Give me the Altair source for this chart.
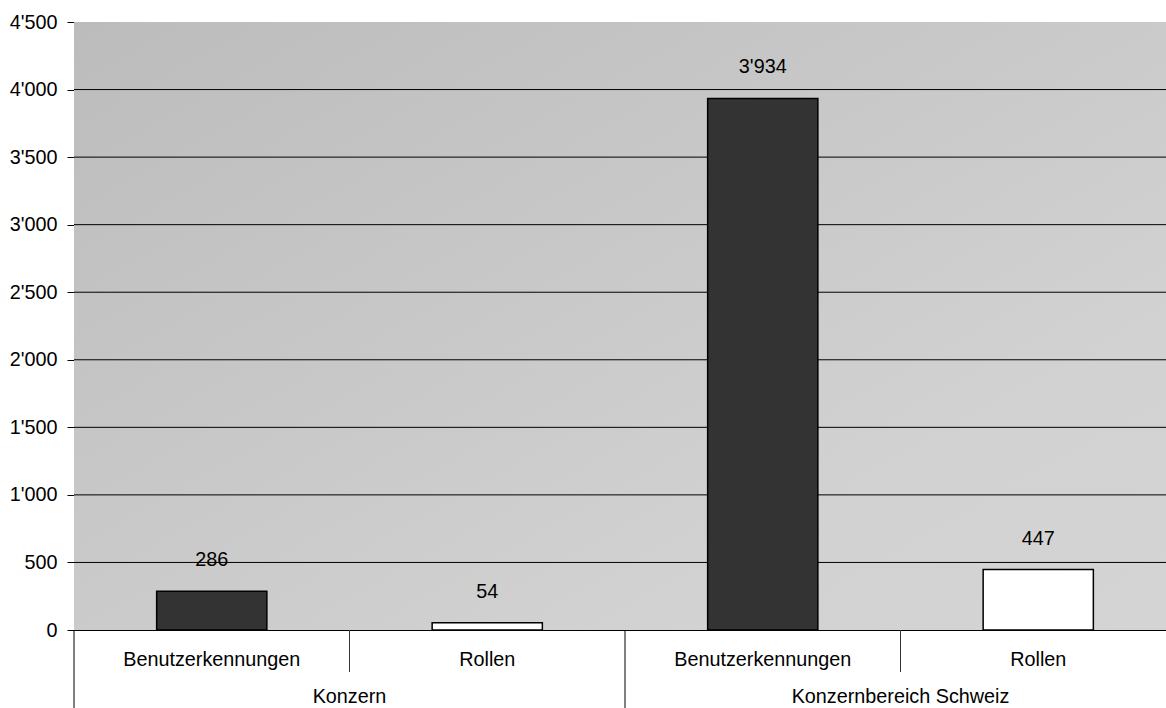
import altair as alt
import pandas as pd

# ---- data ----
groups = ["Konzern", "Konzern", "Konzernbereich Schweiz", "Konzernbereich Schweiz"]
subcats = ["Benutzerkennungen", "Rollen", "Benutzerkennungen", "Rollen"]
values = [286, 54, 3934, 447]
group_names = ["Konzern", "Konzernbereich Schweiz"]
y_ticks = [0, 500, 1000, 1500, 2000, 2500, 3000, 3500, 4000, 4500]

FONT = "Liberation Sans"
FS = 19.8
W, H = 1092, 608
XR = 1102  # category axis runs a little past the visible right edge

cats = [g + "|" + s for g, s in zip(groups, subcats)]
df = pd.DataFrame({"cat": cats, "group": groups, "sub": subcats, "value": values})

grp_df = pd.DataFrame({
    "cat": [g + "|" + "Rollen" for g in group_names],
    "group": group_names,
})
inner_sep = pd.DataFrame({"cat": [g + "|" + "Rollen" for g in group_names]})
outer_sep = pd.DataFrame({"cat": [g + "|" + "Benutzerkennungen" for g in group_names]})
grid_df = pd.DataFrame({"value": [v for v in y_ticks if 0 < v < max(y_ticks)]})

xscale = alt.Scale(domain=cats, paddingInner=0, paddingOuter=0, range=[0, XR])
yscale = alt.Scale(domain=[0, 4500], nice=False)

label_expr = "replace(format(datum.value, ','), ',', \"'\")"

x_axis = alt.Axis(labels=False, ticks=False, title=None, domain=True,
                  domainColor="black", domainWidth=1, grid=False)
y_axis = alt.Axis(values=y_ticks, title=None, grid=False,
                  labelExpr=label_expr, labelFont=FONT, labelFontSize=FS,
                  labelColor="black", tickColor="black", tickSize=7,
                  labelPadding=10, domainColor="black", domainWidth=1)

x_plain = alt.X("cat:N", scale=xscale, axis=x_axis)
x_start = alt.X("cat:N", scale=xscale, axis=x_axis, bandPosition=0)

grad = alt.LinearGradient(
    gradient="linear",
    x1=0, y1=0, x2=1, y2=1,
    stops=[
        alt.GradientStop(offset=0, color="#bcbcbc"),
        alt.GradientStop(offset=0.45, color="#c9c9c9"),
        alt.GradientStop(offset=0.75, color="#d2d2d2"),
        alt.GradientStop(offset=1, color="#d4d4d4"),
    ],
)

background = alt.Chart(alt.Data(values=[{"a": 1}])).mark_rect(color=grad).encode(
    x=alt.value(0), x2=alt.value(W), y=alt.value(0), y2=alt.value(H)
)

grid = alt.Chart(grid_df).mark_rule(color="black", strokeWidth=1).encode(
    y=alt.Y("value:Q", scale=yscale, axis=y_axis),
    x=alt.value(0), x2=alt.value(W),
)

bars = alt.Chart(df).mark_bar(
    width=alt.RelativeBandSize(0.4), stroke="black", strokeWidth=1.5
).encode(
    x=x_plain,
    y=alt.Y("value:Q", scale=yscale, axis=y_axis),
    color=alt.Color("sub:N",
                    scale=alt.Scale(domain=["Benutzerkennungen", "Rollen"],
                                    range=["#333333", "#ffffff"]),
                    legend=None),
)

value_labels = alt.Chart(df).transform_calculate(
    label=label_expr
).mark_text(dy=-25, baseline="alphabetic", font=FONT, fontSize=FS, color="black").encode(
    x=x_plain,
    y=alt.Y("value:Q", scale=yscale, axis=y_axis),
    text="label:N",
)

sub_labels = alt.Chart(df).mark_text(
    dy=36, baseline="alphabetic", font=FONT, fontSize=FS, color="black"
).encode(x=x_plain, y=alt.datum(0, scale=yscale, axis=y_axis), text="sub:N")

group_labels = alt.Chart(grp_df).mark_text(
    dy=73, baseline="alphabetic", font=FONT, fontSize=FS, color="black"
).encode(x=x_start, y=alt.datum(0, scale=yscale, axis=y_axis), text="group:N")

inner_rules = alt.Chart(inner_sep).mark_rule(color="#333333", strokeWidth=1).encode(
    x=x_start, y=alt.value(H), y2=alt.value(H + 42)
)
outer_rules = alt.Chart(outer_sep).mark_rule(color="black", strokeWidth=1).encode(
    x=x_start, y=alt.value(H), y2=alt.value(H + 78)
)

chart = alt.layer(
    background, grid, bars, value_labels, sub_labels, group_labels, inner_rules, outer_rules
).properties(
    width=W, height=H,
    autosize=alt.AutoSizeParams(type="none"),
    padding={"left": 74, "top": 22, "right": 0, "bottom": 78},
    background="white",
).configure_view(strokeWidth=0)

chart.save("out.html", embed_options={"renderer": "svg", "actions": False})
